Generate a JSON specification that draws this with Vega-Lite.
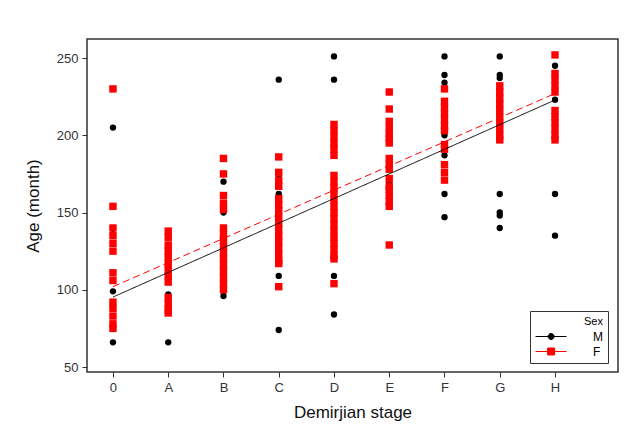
{
  "$schema": "https://vega.github.io/schema/vega-lite/v6.json",
  "width": 531,
  "height": 333,
  "autosize": "none",
  "padding": {"left": 87, "top": 39, "right": 15, "bottom": 67},
  "background": "white",
  "config": {
    "font": "Liberation Sans",
    "view": {"stroke": "#333", "strokeWidth": 1.5},
    "axis": {
      "grid": false,
      "domain": false,
      "tickColor": "#333",
      "tickSize": 5,
      "labelColor": "#333",
      "labelFontSize": 13,
      "titleFontSize": 17,
      "titleFontWeight": "normal",
      "titleColor": "#111"
    }
  },
  "datasets": {
    "pts": [
      {"stage": 0, "age": 205, "sex": "M"}, {"stage": 0, "age": 136, "sex": "M"}, {"stage": 0, "age": 99, "sex": "M"}, {"stage": 0, "age": 66, "sex": "M"},
      {"stage": 1, "age": 129, "sex": "M"}, {"stage": 1, "age": 117, "sex": "M"}, {"stage": 1, "age": 115, "sex": "M"}, {"stage": 1, "age": 97, "sex": "M"}, {"stage": 1, "age": 91, "sex": "M"}, {"stage": 1, "age": 66, "sex": "M"},
      {"stage": 2, "age": 170, "sex": "M"}, {"stage": 2, "age": 150, "sex": "M"}, {"stage": 2, "age": 132, "sex": "M"}, {"stage": 2, "age": 130, "sex": "M"}, {"stage": 2, "age": 113, "sex": "M"}, {"stage": 2, "age": 96, "sex": "M"},
      {"stage": 3, "age": 236, "sex": "M"}, {"stage": 3, "age": 172, "sex": "M"}, {"stage": 3, "age": 162, "sex": "M"}, {"stage": 3, "age": 136, "sex": "M"}, {"stage": 3, "age": 109, "sex": "M"}, {"stage": 3, "age": 74, "sex": "M"},
      {"stage": 4, "age": 251, "sex": "M"}, {"stage": 4, "age": 236, "sex": "M"}, {"stage": 4, "age": 203, "sex": "M"}, {"stage": 4, "age": 194, "sex": "M"}, {"stage": 4, "age": 144, "sex": "M"}, {"stage": 4, "age": 134, "sex": "M"}, {"stage": 4, "age": 109, "sex": "M"}, {"stage": 4, "age": 84, "sex": "M"},
      {"stage": 5, "age": 195, "sex": "M"}, {"stage": 5, "age": 185, "sex": "M"}, {"stage": 5, "age": 170, "sex": "M"},
      {"stage": 6, "age": 251, "sex": "M"}, {"stage": 6, "age": 239, "sex": "M"}, {"stage": 6, "age": 234, "sex": "M"}, {"stage": 6, "age": 203, "sex": "M"}, {"stage": 6, "age": 200, "sex": "M"}, {"stage": 6, "age": 192, "sex": "M"}, {"stage": 6, "age": 187, "sex": "M"}, {"stage": 6, "age": 176, "sex": "M"}, {"stage": 6, "age": 162, "sex": "M"}, {"stage": 6, "age": 147, "sex": "M"},
      {"stage": 7, "age": 251, "sex": "M"}, {"stage": 7, "age": 239, "sex": "M"}, {"stage": 7, "age": 237, "sex": "M"}, {"stage": 7, "age": 227, "sex": "M"}, {"stage": 7, "age": 197, "sex": "M"}, {"stage": 7, "age": 162, "sex": "M"}, {"stage": 7, "age": 150, "sex": "M"}, {"stage": 7, "age": 148, "sex": "M"}, {"stage": 7, "age": 140, "sex": "M"},
      {"stage": 8, "age": 245, "sex": "M"}, {"stage": 8, "age": 240, "sex": "M"}, {"stage": 8, "age": 223, "sex": "M"}, {"stage": 8, "age": 212, "sex": "M"}, {"stage": 8, "age": 197, "sex": "M"}, {"stage": 8, "age": 162, "sex": "M"}, {"stage": 8, "age": 135, "sex": "M"},
      {"stage": 0, "age": 230, "sex": "F"}, {"stage": 0, "age": 154, "sex": "F"}, {"stage": 0, "age": 140, "sex": "F"}, {"stage": 0, "age": 135, "sex": "F"}, {"stage": 0, "age": 130, "sex": "F"}, {"stage": 0, "age": 125, "sex": "F"}, {"stage": 0, "age": 111, "sex": "F"}, {"stage": 0, "age": 106, "sex": "F"}, {"stage": 0, "age": 92, "sex": "F"}, {"stage": 0, "age": 88, "sex": "F"}, {"stage": 0, "age": 83, "sex": "F"}, {"stage": 0, "age": 78, "sex": "F"}, {"stage": 0, "age": 75, "sex": "F"},
      {"stage": 1, "age": 138, "sex": "F"}, {"stage": 1, "age": 134, "sex": "F"}, {"stage": 1, "age": 129, "sex": "F"}, {"stage": 1, "age": 125, "sex": "F"}, {"stage": 1, "age": 121, "sex": "F"}, {"stage": 1, "age": 117, "sex": "F"}, {"stage": 1, "age": 113, "sex": "F"}, {"stage": 1, "age": 109, "sex": "F"}, {"stage": 1, "age": 105, "sex": "F"}, {"stage": 1, "age": 95, "sex": "F"}, {"stage": 1, "age": 91, "sex": "F"}, {"stage": 1, "age": 87, "sex": "F"}, {"stage": 1, "age": 85, "sex": "F"},
      {"stage": 2, "age": 185, "sex": "F"}, {"stage": 2, "age": 175, "sex": "F"}, {"stage": 2, "age": 161, "sex": "F"}, {"stage": 2, "age": 156, "sex": "F"}, {"stage": 2, "age": 152, "sex": "F"}, {"stage": 2, "age": 140, "sex": "F"}, {"stage": 2, "age": 136, "sex": "F"}, {"stage": 2, "age": 132, "sex": "F"}, {"stage": 2, "age": 128, "sex": "F"}, {"stage": 2, "age": 124, "sex": "F"}, {"stage": 2, "age": 120, "sex": "F"}, {"stage": 2, "age": 116, "sex": "F"}, {"stage": 2, "age": 112, "sex": "F"}, {"stage": 2, "age": 108, "sex": "F"}, {"stage": 2, "age": 104, "sex": "F"}, {"stage": 2, "age": 100, "sex": "F"},
      {"stage": 3, "age": 186, "sex": "F"}, {"stage": 3, "age": 176, "sex": "F"}, {"stage": 3, "age": 171, "sex": "F"}, {"stage": 3, "age": 167, "sex": "F"}, {"stage": 3, "age": 159, "sex": "F"}, {"stage": 3, "age": 155, "sex": "F"}, {"stage": 3, "age": 151, "sex": "F"}, {"stage": 3, "age": 147, "sex": "F"}, {"stage": 3, "age": 143, "sex": "F"}, {"stage": 3, "age": 139, "sex": "F"}, {"stage": 3, "age": 135, "sex": "F"}, {"stage": 3, "age": 131, "sex": "F"}, {"stage": 3, "age": 127, "sex": "F"}, {"stage": 3, "age": 123, "sex": "F"}, {"stage": 3, "age": 119, "sex": "F"}, {"stage": 3, "age": 117, "sex": "F"}, {"stage": 3, "age": 102, "sex": "F"},
      {"stage": 4, "age": 207, "sex": "F"}, {"stage": 4, "age": 203, "sex": "F"}, {"stage": 4, "age": 199, "sex": "F"}, {"stage": 4, "age": 195, "sex": "F"}, {"stage": 4, "age": 191, "sex": "F"}, {"stage": 4, "age": 187, "sex": "F"}, {"stage": 4, "age": 174, "sex": "F"}, {"stage": 4, "age": 170, "sex": "F"}, {"stage": 4, "age": 166, "sex": "F"}, {"stage": 4, "age": 162, "sex": "F"}, {"stage": 4, "age": 158, "sex": "F"}, {"stage": 4, "age": 154, "sex": "F"}, {"stage": 4, "age": 150, "sex": "F"}, {"stage": 4, "age": 146, "sex": "F"}, {"stage": 4, "age": 142, "sex": "F"}, {"stage": 4, "age": 138, "sex": "F"}, {"stage": 4, "age": 134, "sex": "F"}, {"stage": 4, "age": 130, "sex": "F"}, {"stage": 4, "age": 126, "sex": "F"}, {"stage": 4, "age": 122, "sex": "F"}, {"stage": 4, "age": 120, "sex": "F"}, {"stage": 4, "age": 104, "sex": "F"},
      {"stage": 5, "age": 228, "sex": "F"}, {"stage": 5, "age": 217, "sex": "F"}, {"stage": 5, "age": 209, "sex": "F"}, {"stage": 5, "age": 205, "sex": "F"}, {"stage": 5, "age": 201, "sex": "F"}, {"stage": 5, "age": 198, "sex": "F"}, {"stage": 5, "age": 195, "sex": "F"}, {"stage": 5, "age": 185, "sex": "F"}, {"stage": 5, "age": 181, "sex": "F"}, {"stage": 5, "age": 178, "sex": "F"}, {"stage": 5, "age": 172, "sex": "F"}, {"stage": 5, "age": 167, "sex": "F"}, {"stage": 5, "age": 165, "sex": "F"}, {"stage": 5, "age": 161, "sex": "F"}, {"stage": 5, "age": 157, "sex": "F"}, {"stage": 5, "age": 154, "sex": "F"}, {"stage": 5, "age": 129, "sex": "F"},
      {"stage": 6, "age": 230, "sex": "F"}, {"stage": 6, "age": 222, "sex": "F"}, {"stage": 6, "age": 218, "sex": "F"}, {"stage": 6, "age": 214, "sex": "F"}, {"stage": 6, "age": 210, "sex": "F"}, {"stage": 6, "age": 206, "sex": "F"}, {"stage": 6, "age": 203, "sex": "F"}, {"stage": 6, "age": 194, "sex": "F"}, {"stage": 6, "age": 191, "sex": "F"}, {"stage": 6, "age": 181, "sex": "F"}, {"stage": 6, "age": 176, "sex": "F"}, {"stage": 6, "age": 171, "sex": "F"},
      {"stage": 7, "age": 232, "sex": "F"}, {"stage": 7, "age": 228, "sex": "F"}, {"stage": 7, "age": 224, "sex": "F"}, {"stage": 7, "age": 220, "sex": "F"}, {"stage": 7, "age": 216, "sex": "F"}, {"stage": 7, "age": 212, "sex": "F"}, {"stage": 7, "age": 208, "sex": "F"}, {"stage": 7, "age": 204, "sex": "F"}, {"stage": 7, "age": 200, "sex": "F"}, {"stage": 7, "age": 197, "sex": "F"},
      {"stage": 8, "age": 252, "sex": "F"}, {"stage": 8, "age": 240, "sex": "F"}, {"stage": 8, "age": 236, "sex": "F"}, {"stage": 8, "age": 232, "sex": "F"}, {"stage": 8, "age": 228, "sex": "F"}, {"stage": 8, "age": 216, "sex": "F"}, {"stage": 8, "age": 212, "sex": "F"}, {"stage": 8, "age": 208, "sex": "F"}, {"stage": 8, "age": 204, "sex": "F"}, {"stage": 8, "age": 200, "sex": "F"}, {"stage": 8, "age": 197, "sex": "F"}
    ],
    "fits": [
      {"stage": 0, "age": 95.3, "sex": "M", "fit": "solid"}, {"stage": 8, "age": 222.8, "sex": "M", "fit": "solid"},
      {"stage": 0, "age": 102, "sex": "F", "fit": "dashed"}, {"stage": 8, "age": 227, "sex": "F", "fit": "dashed"}
    ]
  },
  "encoding": {
    "x": {
      "field": "stage",
      "type": "quantitative",
      "title": "Demirjian stage",
      "scale": {"domain": [-0.47, 9.14], "nice": false, "zero": false},
      "axis": {
        "values": [0, 1, 2, 3, 4, 5, 6, 7, 8],
        "labelExpr": "['0','A','B','C','D','E','F','G','H'][datum.value]",
        "labelPadding": 4,
        "titlePadding": 10
      }
    },
    "y": {
      "field": "age",
      "type": "quantitative",
      "title": "Age (month)",
      "scale": {"domain": [46.8, 262.3], "nice": false, "zero": false},
      "axis": {"values": [50, 100, 150, 200, 250], "labelPadding": 4, "titlePadding": 14}
    },
    "color": {
      "field": "sex",
      "type": "nominal",
      "scale": {"domain": ["M", "F"], "range": ["black", "red"]},
      "legend": {
        "title": "Sex",
        "orient": "none",
        "legendX": 443,
        "legendY": 272,
        "direction": "vertical",
        "strokeColor": "#333",
        "padding": 5,
        "titleAnchor": "end",
        "titleFontSize": 11,
        "titleFontWeight": "normal",
        "titlePadding": 3,
        "labelFontSize": 12,
        "labelOffset": 45,
        "symbolSize": 144,
        "symbolStrokeWidth": 1,
        "rowPadding": 2,
        "encode": {
          "symbols": {
            "update": {
              "shape": {"signal": "datum.value == 'M' ? 'M-1,0H4.17M2.1,0A0.5,0.5,0,1,1,1.1,0A0.5,0.5,0,1,1,2.1,0Z' : 'M-1,0H4.17M1.02,-0.58H2.18V0.58H1.02Z'"},
              "stroke": {"signal": "datum.value == 'M' ? 'black' : '#ff5555'"},
              "fill": {"signal": "datum.value == 'M' ? 'black' : 'red'"},
              "strokeWidth": {"value": 1}
            }
          }
        }
      }
    }
  },
  "layer": [
    {
      "data": {"name": "pts"},
      "transform": [{"filter": "datum.sex == 'M'"}],
      "mark": {"type": "point", "filled": true, "shape": "circle", "size": 40, "opacity": 1}
    },
    {
      "data": {"name": "pts"},
      "transform": [{"filter": "datum.sex == 'F'"}],
      "mark": {"type": "point", "filled": true, "shape": "square", "size": 55, "opacity": 1}
    },
    {
      "data": {"name": "fits"},
      "mark": {"type": "line", "strokeWidth": 1},
      "encoding": {
        "strokeDash": {
          "field": "fit",
          "type": "nominal",
          "scale": {"domain": ["solid", "dashed"], "range": [[1, 0], [7, 4]]},
          "legend": null
        }
      }
    }
  ]
}
